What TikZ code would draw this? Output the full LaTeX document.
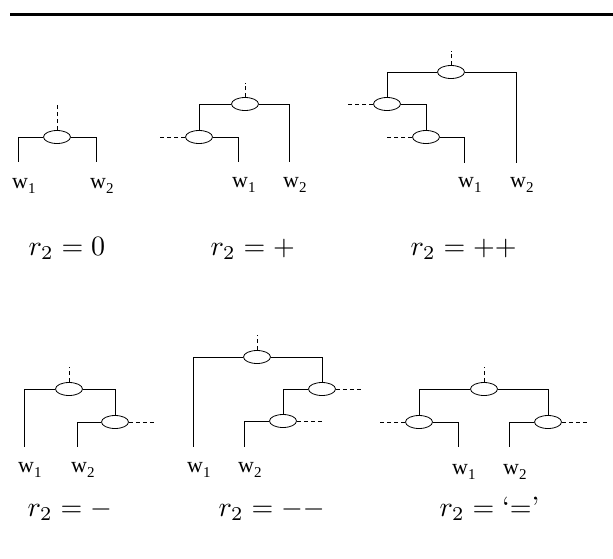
\documentclass[tikz,border=0pt]{standalone}
\usepackage{fontspec}
\newfontfamily\wfont{Liberation Serif}
\newcommand{\wlab}[1]{{\wfont\fontsize{22}{22}\selectfont w\kern0pt\raisebox{-5.5pt}{\fontsize{15}{15}\selectfont #1}}}
\usetikzlibrary{shapes.geometric}
\begin{document}
\begin{tikzpicture}[x=1pt,y=-1pt,
  jn/.style={draw,ellipse,minimum width=27pt,minimum height=13pt,inner sep=0pt,line width=0.8pt},
  br/.style={line width=0.8pt},
  dsh/.style={line width=0.8pt,dash pattern=on 4pt off 3pt},
  wl/.style={inner sep=0pt,anchor=base west},
  rl/.style={inner sep=0pt,anchor=base west,scale=2.8,transform shape}]
\useasboundingbox (0,0) rectangle (613,558);
\coordinate (rA) at (10,14.5);
\coordinate (rB) at (613,14.5);
\draw[line width=3.5pt] (rA) -- (rB);

% panel 1 : r2 = 0
\node[jn] (e1) at (57,137) {};
\coordinate (d1) at (57,103);
\coordinate (l1a) at (18,162);
\coordinate (l1b) at (96,162);
\draw[dsh] (e1.north) -- (d1);
\draw[br] (e1.west) -| (l1a);
\draw[br] (e1.east) -| (l1b);
\node[wl] (w1a) at (12,188) {\wlab{1}};
\node[wl] (w1b) at (90,188) {\wlab{2}};
\node[rl] (r1) at (28,255.5) {$r_2 = 0$};

% panel 2 : r2 = +
\node[jn] (e2t) at (245,104) {};
\node[jn] (e2l) at (199,137) {};
\coordinate (d2t) at (245,83);
\coordinate (d2l) at (160,137);
\coordinate (l2a) at (238,162);
\coordinate (l2b) at (289,162);
\draw[dsh] (e2t.north) -- (d2t);
\draw[dsh] (e2l.west) -- (d2l);
\draw[br] (e2t.west) -| (e2l.north);
\draw[br] (e2t.east) -| (l2b);
\draw[br] (e2l.east) -| (l2a);
\node[wl] (w2a) at (232,187) {\wlab{1}};
\node[wl] (w2b) at (283,187) {\wlab{2}};
\node[rl] (r2) at (210,255.5) {$r_2 = {+}$};

% panel 3 : r2 = ++
\node[jn] (e3t) at (451,72) {};
\node[jn] (e3m) at (387,104) {};
\node[jn] (e3b) at (426,137) {};
\coordinate (d3t) at (451,51);
\coordinate (d3m) at (348,104);
\coordinate (d3b) at (387,137);
\coordinate (l3a) at (464,163);
\coordinate (l3b) at (516,163);
\draw[dsh] (e3t.north) -- (d3t);
\draw[dsh] (e3m.west) -- (d3m);
\draw[dsh] (e3b.west) -- (d3b);
\draw[br] (e3t.west) -| (e3m.north);
\draw[br] (e3t.east) -| (l3b);
\draw[br] (e3m.east) -| (e3b.north);
\draw[br] (e3b.east) -| (l3a);
\node[wl] (w3a) at (458,187) {\wlab{1}};
\node[wl] (w3b) at (510,187) {\wlab{2}};
\node[rl] (r3) at (410,255.5) {$r_2 = {+}{+}$};

% panel 4 : r2 = -
\node[jn] (e4t) at (69,389) {};
\node[jn] (e4r) at (115,422) {};
\coordinate (d4t) at (69,367);
\coordinate (d4r) at (154,422);
\coordinate (l4a) at (24,447);
\coordinate (l4b) at (77,447);
\draw[dsh] (e4t.north) -- (d4t);
\draw[dsh] (e4r.east) -- (d4r);
\draw[br] (e4t.west) -| (l4a);
\draw[br] (e4t.east) -| (e4r.north);
\draw[br] (e4r.west) -| (l4b);
\node[wl] (w4a) at (18,472) {\wlab{1}};
\node[wl] (w4b) at (71,472) {\wlab{2}};
\node[rl] (r4) at (27,516) {$r_2 = {-}$};

% panel 5 : r2 = --
\node[jn] (e5t) at (257,357) {};
\node[jn] (e5m) at (322,389) {};
\node[jn] (e5b) at (283,421) {};
\coordinate (d5t) at (257,335);
\coordinate (d5m) at (361,389);
\coordinate (d5b) at (323,421);
\coordinate (l5a) at (193,447);
\coordinate (l5b) at (244,447);
\draw[dsh] (e5t.north) -- (d5t);
\draw[dsh] (e5m.east) -- (d5m);
\draw[dsh] (e5b.east) -- (d5b);
\draw[br] (e5t.west) -| (l5a);
\draw[br] (e5t.east) -| (e5m.north);
\draw[br] (e5m.west) -| (e5b.north);
\draw[br] (e5b.west) -| (l5b);
\node[wl] (w5a) at (187,472) {\wlab{1}};
\node[wl] (w5b) at (238,472) {\wlab{2}};
\node[rl] (r5) at (218,516) {$r_2 = {-}{-}$};

% panel 6 : r2 = '='
\node[jn] (e6t) at (484,389) {};
\node[jn] (e6l) at (419,422) {};
\node[jn] (e6r) at (548,422) {};
\coordinate (d6t) at (484,367);
\coordinate (d6l) at (380,422);
\coordinate (d6r) at (588,422);
\coordinate (l6a) at (458,447);
\coordinate (l6b) at (509,447);
\draw[dsh] (e6t.north) -- (d6t);
\draw[dsh] (e6l.west) -- (d6l);
\draw[dsh] (e6r.east) -- (d6r);
\draw[br] (e6t.west) -| (e6l.north);
\draw[br] (e6t.east) -| (e6r.north);
\draw[br] (e6l.east) -| (l6a);
\draw[br] (e6r.west) -| (l6b);
\node[wl] (w6a) at (452,474) {\wlab{1}};
\node[wl] (w6b) at (503,474) {\wlab{2}};
\node[rl] (r6) at (439,516) {$r_2 = {}$`$=$'};
\end{tikzpicture}
\end{document}
